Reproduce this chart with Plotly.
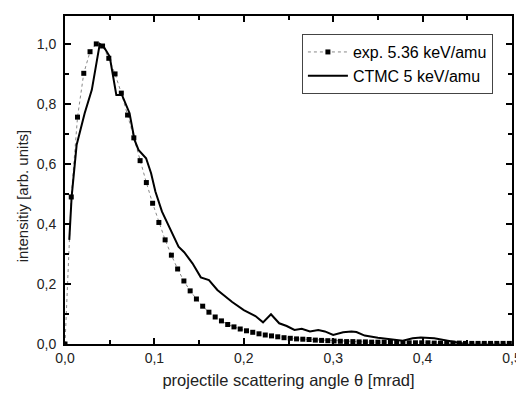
import plotly.graph_objects as go

exp_x = [0.000, 0.007, 0.014, 0.021, 0.028, 0.035, 0.042, 0.049, 0.056, 0.063,
         0.070, 0.077, 0.084, 0.091, 0.098, 0.105, 0.112, 0.119, 0.126, 0.133,
         0.140, 0.147, 0.154, 0.161, 0.168, 0.175, 0.182, 0.189, 0.196, 0.203,
         0.210, 0.217, 0.224, 0.231, 0.238, 0.245, 0.252, 0.259, 0.266, 0.273,
         0.280, 0.287, 0.294, 0.301, 0.308, 0.315, 0.322, 0.329, 0.336, 0.343,
         0.350, 0.357, 0.364, 0.371, 0.378, 0.385, 0.392, 0.399, 0.406, 0.413,
         0.420, 0.427, 0.434, 0.441, 0.448, 0.455, 0.462, 0.469, 0.476, 0.483,
         0.490, 0.497]
exp_y = [0.000, 0.490, 0.756, 0.902, 0.974, 1.000, 0.993, 0.952, 0.900, 0.836,
         0.763, 0.687, 0.611, 0.538, 0.469, 0.405, 0.347, 0.296, 0.250, 0.210,
         0.177, 0.150, 0.126, 0.106, 0.090, 0.077, 0.065, 0.057, 0.050, 0.044,
         0.039, 0.034, 0.030, 0.027, 0.024, 0.021, 0.019, 0.017, 0.016, 0.015,
         0.013, 0.012, 0.011, 0.010, 0.009, 0.008, 0.008, 0.007, 0.007, 0.006,
         0.006, 0.006, 0.005, 0.005, 0.005, 0.004, 0.004, 0.004, 0.004, 0.003,
         0.003, 0.003, 0.003, 0.003, 0.002, 0.002, 0.002, 0.002, 0.002, 0.002,
         0.002, 0.002]

ctmc_x = [0.0048, 0.0074, 0.013, 0.022, 0.030, 0.0389, 0.0433, 0.050, 0.0574, 0.0637,
          0.0722, 0.0778, 0.0822, 0.0907, 0.0963, 0.1011, 0.1085, 0.1185, 0.127, 0.1333,
          0.1426, 0.1519, 0.161, 0.1704, 0.187, 0.200, 0.213, 0.2215, 0.2304, 0.2396,
          0.248, 0.2567, 0.2648, 0.274, 0.2833, 0.2907, 0.300, 0.3111, 0.3204, 0.326,
          0.3352, 0.350, 0.3648, 0.3778, 0.3889, 0.398, 0.413, 0.426, 0.437, 0.445]
ctmc_y = [0.347, 0.490, 0.663, 0.769, 0.847, 1.000, 0.991, 0.958, 0.830, 0.830,
          0.769, 0.680, 0.647, 0.619, 0.569, 0.508, 0.441, 0.380, 0.324, 0.306,
          0.269, 0.222, 0.213, 0.180, 0.140, 0.113, 0.093, 0.072, 0.099, 0.069,
          0.060, 0.047, 0.051, 0.042, 0.047, 0.042, 0.030, 0.039, 0.042, 0.040,
          0.028, 0.021, 0.017, 0.011, 0.019, 0.022, 0.019, 0.013, 0.007, 0.002]

x_ticks = [0.0, 0.1, 0.2, 0.3, 0.4, 0.5]
y_ticks = [0.0, 0.2, 0.4, 0.6, 0.8, 1.0]

x_title = "projectile scattering angle θ [mrad]"
y_title = "intensitiy [arb. units]"

fig = go.Figure()
fig.add_trace(go.Scatter(
    x=exp_x, y=exp_y, mode="lines+markers", name="exp. 5.36 keV/amu",
    line=dict(color="#888888", width=1, dash="dot"),
    marker=dict(symbol="square", size=5, color="black"),
))
fig.add_trace(go.Scatter(
    x=ctmc_x, y=ctmc_y, mode="lines", name="CTMC 5 keV/amu",
    line=dict(color="black", width=2),
))

axis_common = dict(
    showline=True, linecolor="black", linewidth=2, mirror="ticks",
    ticks="inside", ticklen=6, tickwidth=1.5, tickcolor="black",
    showgrid=False, zeroline=False, tickformat=".1f", automargin=False,
    ticklabeloverflow="allow",
    tickfont=dict(family="Arial", size=14, color="#222222"),
)

fig.update_xaxes(
    range=[0, 0.5], tickvals=x_ticks, ticklabelstandoff=0,
    minor=dict(ticks="inside", ticklen=4, tickwidth=1.5, tickcolor="black", dtick=0.05, showgrid=False),
    title=dict(text=x_title, font=dict(family="Arial", size=16.5, color="#222222"), standoff=10),
    **axis_common,
)
fig.update_yaxes(
    range=[0, 1.093], tickvals=y_ticks, ticklabelstandoff=4,
    minor=dict(ticks="inside", ticklen=4, tickwidth=1.5, tickcolor="black", dtick=0.1, showgrid=False),
    **axis_common,
)

fig.add_annotation(
    text=y_title, textangle=-90, showarrow=False,
    xref="paper", yref="paper", x=-0.0956, y=0.451,
    xanchor="center", yanchor="middle",
    font=dict(family="Arial", size=15, color="#222222"),
)

# page body adds an 8px offset at left/top; compensate so the plot sits where the reference does
fig.update_layout(
    width=516, height=386,
    margin=dict(l=57, r=12, t=8, b=50),
    plot_bgcolor="white", paper_bgcolor="white",
    separators=",.",
    legend=dict(
        x=0.53, y=0.945, xanchor="left", yanchor="top",
        bordercolor="#444444", borderwidth=1, bgcolor="white",
        font=dict(family="Arial", size=16, color="black"),
        tracegroupgap=0, itemwidth=40,
    ),
)

fig.write_html("out.html")
